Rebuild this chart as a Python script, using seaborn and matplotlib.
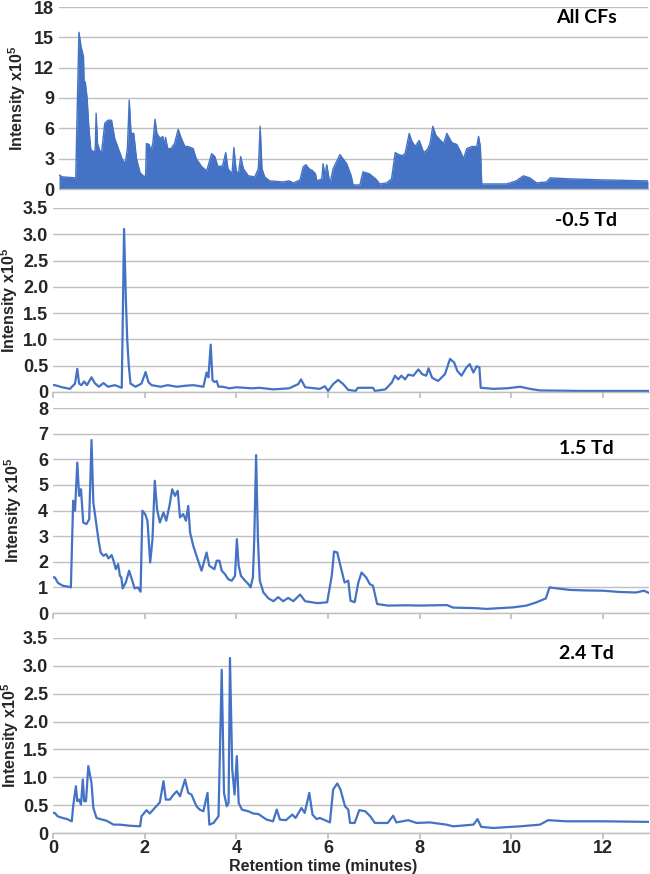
import matplotlib
matplotlib.use("Agg")
import matplotlib.pyplot as plt
import seaborn as sns
import pandas as pd

# ==========================================
# data (minutes, intensity x10^5)
# ==========================================
t_all = [0.0, 0.07, 0.37, 0.39, 0.44, 0.49, 0.54, 0.56, 0.58, 0.62, 0.66, 0.70, 0.74, 0.78,
         0.80, 0.82, 0.85, 0.90, 0.94, 1.01, 1.08, 1.16, 1.23, 1.31, 1.39, 1.46, 1.51, 1.55,
         1.59, 1.65, 1.71, 1.79, 1.86, 1.91, 1.93, 1.99, 2.03, 2.07, 2.12, 2.16, 2.23, 2.29,
         2.32, 2.35, 2.40, 2.47, 2.55, 2.63, 2.70, 2.78, 2.85, 2.96, 3.03, 3.15, 3.26, 3.37,
         3.44, 3.51, 3.61, 3.68, 3.73, 3.82, 3.86, 3.91, 3.96, 4.01, 4.07, 4.18, 4.32, 4.40,
         4.44, 4.48, 4.54, 4.65, 4.95, 5.08, 5.18, 5.32, 5.39, 5.45, 5.52, 5.60, 5.66, 5.69,
         5.80, 5.83, 5.87, 5.91, 5.98, 6.05, 6.20, 6.35, 6.45, 6.49, 6.64, 6.71, 6.85, 6.99,
         7.08, 7.23, 7.34, 7.42, 7.50, 7.57, 7.64, 7.73, 7.78, 7.86, 7.95, 8.05, 8.13, 8.19,
         8.25, 8.32, 8.42, 8.49, 8.56, 8.67, 8.78, 8.85, 8.93, 9.00, 9.11, 9.22, 9.26, 9.30,
         9.33, 9.58, 9.88, 10.09, 10.25, 10.39, 10.54, 10.76, 10.84, 11.30, 12.01, 13.0]
i_all = [1.4, 1.2, 1.1, 5.5, 15.5, 14.0, 13.1, 9.5, 10.6, 9.0, 6.0, 4.0, 3.7, 3.7,
         4.0, 7.5, 4.5, 3.8, 3.6, 6.5, 6.8, 6.8, 5.0, 4.0, 3.0, 2.5, 4.0, 8.8,
         5.5, 5.5, 3.0, 1.6, 1.3, 1.2, 4.5, 4.4, 3.8, 4.5, 6.9, 5.5, 5.0, 5.2,
         4.2, 5.1, 4.0, 4.0, 4.5, 5.9, 5.0, 4.2, 4.2, 4.0, 3.0, 2.2, 1.8, 3.5,
         3.2, 2.2, 2.3, 3.6, 2.0, 1.5, 4.1, 1.8, 1.5, 3.2, 2.0, 1.3, 1.2, 2.0,
         6.2, 2.0, 1.2, 0.8, 0.7, 0.8, 0.6, 0.9, 2.2, 2.4, 2.0, 1.8, 1.5, 0.8,
         1.0, 2.5, 1.3, 2.4, 0.5, 2.0, 3.4, 2.5, 1.3, 0.4, 0.4, 1.7, 1.5, 1.0,
         0.5, 0.6, 1.0, 3.6, 3.4, 3.3, 3.5, 5.5, 4.8, 4.2, 4.8, 3.6, 3.9, 4.5,
         6.2, 5.3, 4.8, 4.5, 5.5, 4.6, 4.4, 3.8, 3.0, 4.0, 4.2, 4.2, 5.2, 4.2,
         0.5, 0.5, 0.5, 0.8, 1.3, 1.1, 0.6, 0.7, 1.1, 1.0, 0.9, 0.8]

t_m05 = [0.0, 0.04, 0.20, 0.37, 0.48, 0.53, 0.57, 0.62, 0.68, 0.74, 0.84, 0.91, 1.00, 1.10,
         1.20, 1.35, 1.50, 1.55, 1.59, 1.62, 1.65, 1.69, 1.80, 1.93, 2.02, 2.08, 2.15, 2.35,
         2.50, 2.70, 2.90, 3.06, 3.28, 3.35, 3.39, 3.44, 3.48, 3.53, 3.57, 3.61, 3.70, 3.85,
         4.00, 4.35, 4.50, 4.80, 5.15, 5.35, 5.41, 5.50, 5.82, 5.93, 6.00, 6.11, 6.22, 6.33,
         6.44, 6.60, 6.65, 6.98, 7.02, 7.25, 7.39, 7.46, 7.53, 7.60, 7.68, 7.75, 7.86, 7.97,
         8.05, 8.14, 8.19, 8.27, 8.40, 8.55, 8.66, 8.75, 8.82, 8.91, 9.02, 9.09, 9.17, 9.24,
         9.30, 9.33, 9.60, 9.90, 10.19, 10.40, 10.62, 11.50, 12.98, 13.0]
i_m05 = [0.13, 0.13, 0.09, 0.06, 0.16, 0.44, 0.16, 0.13, 0.20, 0.13, 0.28, 0.17, 0.10, 0.17,
         0.10, 0.13, 0.08, 3.10, 1.74, 0.98, 0.54, 0.16, 0.10, 0.16, 0.38, 0.19, 0.13, 0.10,
         0.13, 0.10, 0.12, 0.13, 0.10, 0.37, 0.28, 0.90, 0.22, 0.19, 0.21, 0.10, 0.10, 0.07,
         0.09, 0.07, 0.08, 0.05, 0.07, 0.15, 0.24, 0.09, 0.06, 0.11, 0.02, 0.15, 0.23, 0.15,
         0.04, 0.02, 0.08, 0.08, 0.02, 0.05, 0.18, 0.31, 0.24, 0.31, 0.24, 0.33, 0.31, 0.43,
         0.34, 0.31, 0.45, 0.27, 0.21, 0.34, 0.63, 0.56, 0.40, 0.31, 0.47, 0.53, 0.37, 0.49,
         0.47, 0.08, 0.06, 0.07, 0.10, 0.06, 0.03, 0.02, 0.02, 0.02]

t_15 = [0.0, 0.04, 0.11, 0.22, 0.33, 0.39, 0.44, 0.48, 0.53, 0.57, 0.61, 0.66, 0.73, 0.79,
        0.84, 0.88, 0.93, 0.99, 1.04, 1.10, 1.16, 1.21, 1.28, 1.32, 1.37, 1.42, 1.46, 1.49,
        1.52, 1.59, 1.66, 1.73, 1.78, 1.85, 1.91, 1.95, 2.01, 2.06, 2.12, 2.17, 2.22, 2.27,
        2.33, 2.41, 2.47, 2.54, 2.60, 2.66, 2.72, 2.77, 2.84, 2.90, 2.95, 2.99, 3.06, 3.13,
        3.24, 3.29, 3.35, 3.41, 3.46, 3.52, 3.57, 3.63, 3.68, 3.75, 3.82, 3.90, 3.97, 4.01,
        4.05, 4.10, 4.19, 4.26, 4.31, 4.36, 4.39, 4.43, 4.47, 4.51, 4.59, 4.70, 4.81, 4.91,
        5.02, 5.13, 5.24, 5.39, 5.50, 5.75, 5.82, 5.98, 6.08, 6.13, 6.20, 6.27, 6.36, 6.44,
        6.49, 6.58, 6.66, 6.73, 6.83, 6.91, 6.98, 7.07,
        7.30, 7.70, 8.00, 8.30, 8.59, 8.73, 9.20, 9.46, 10.04, 10.33, 10.55, 10.75, 10.83,
        10.95, 11.28, 11.64, 12.00, 12.36, 12.72, 12.89, 13.0]
i_15 = [1.39, 1.39, 1.17, 1.06, 1.03, 1.00, 4.38, 3.99, 5.87, 4.57, 4.83, 3.53, 3.47, 3.66,
        6.75, 4.31, 3.66, 2.88, 2.36, 2.23, 2.30, 2.13, 2.26, 2.04, 1.71, 1.91, 1.45, 1.39,
        0.96, 1.20, 1.65, 1.26, 0.96, 1.00, 0.83, 3.99, 3.86, 3.60, 1.97, 2.88, 5.16, 4.05,
        3.53, 3.92, 3.60, 4.18, 4.83, 4.57, 4.77, 3.73, 3.86, 3.60, 4.18, 3.14, 2.62, 2.23,
        1.65, 1.97, 2.36, 1.84, 1.78, 1.71, 2.04, 2.04, 1.65, 1.52, 1.32, 1.26, 1.45, 2.88,
        1.84, 1.45, 1.26, 1.13, 1.00, 1.39, 2.88, 6.16, 2.88, 1.26, 0.80, 0.57, 0.46, 0.62,
        0.46, 0.59, 0.46, 0.72, 0.46, 0.39, 0.39, 0.42, 1.45, 2.40, 2.36, 1.84, 1.19, 1.26,
        0.48, 0.42, 1.19, 1.58, 1.39, 1.13, 1.06, 0.35,
        0.29, 0.30, 0.29, 0.30, 0.31, 0.21, 0.19, 0.16, 0.22, 0.29, 0.42, 0.57, 1.00,
        0.97, 0.90, 0.88, 0.87, 0.82, 0.80, 0.87, 0.78]

t_24 = [0.0, 0.04, 0.10, 0.21, 0.31, 0.41, 0.44, 0.50, 0.53, 0.57, 0.61, 0.65, 0.68, 0.72,
        0.77, 0.84, 0.88, 0.95, 1.03, 1.17, 1.32, 1.46, 1.68, 1.90, 1.93, 2.04, 2.11, 2.22,
        2.33, 2.41, 2.46, 2.55, 2.63, 2.70, 2.77, 2.88, 2.95, 3.02, 3.13, 3.20, 3.28, 3.37,
        3.41, 3.50, 3.61, 3.68, 3.73, 3.79, 3.83, 3.86, 3.91, 3.96, 4.01, 4.05, 4.12, 4.26,
        4.37, 4.48, 4.66, 4.80, 4.88, 4.95, 5.08, 5.22, 5.29, 5.42, 5.49, 5.59, 5.66, 5.75,
        5.82, 6.04, 6.11, 6.20, 6.27, 6.37, 6.44, 6.48, 6.58, 6.68, 6.81, 6.92, 7.02, 7.30,
        7.42, 7.49, 7.75, 7.93, 8.22, 8.58, 8.73, 9.17, 9.26, 9.34, 9.60, 10.19, 10.62, 10.80,
        11.20, 12.00, 12.98, 13.0]
i_24 = [0.36, 0.36, 0.30, 0.27, 0.25, 0.21, 0.48, 0.84, 0.57, 0.60, 0.51, 0.96, 0.57, 0.57,
        1.20, 0.90, 0.45, 0.27, 0.25, 0.22, 0.15, 0.15, 0.13, 0.12, 0.30, 0.41, 0.35, 0.45,
        0.55, 0.93, 0.60, 0.60, 0.69, 0.75, 0.66, 0.96, 0.72, 0.69, 0.48, 0.42, 0.39, 0.72,
        0.15, 0.18, 0.30, 2.93, 0.72, 0.48, 0.54, 3.14, 1.14, 0.69, 1.38, 0.54, 0.42, 0.39,
        0.35, 0.34, 0.24, 0.21, 0.42, 0.24, 0.23, 0.33, 0.27, 0.45, 0.36, 0.72, 0.33, 0.25,
        0.27, 0.19, 0.78, 0.89, 0.78, 0.48, 0.42, 0.18, 0.18, 0.41, 0.39, 0.30, 0.18, 0.18,
        0.31, 0.19, 0.23, 0.18, 0.19, 0.15, 0.12, 0.15, 0.25, 0.11, 0.09, 0.12, 0.15, 0.23,
        0.21, 0.21, 0.20, 0.20]

panel_names = ["All CFs", "-0.5 Td", "1.5 Td", "2.4 Td"]
y_maxes = [18, 3.5, 8, 3.5]
y_steps = [3, 0.5, 1, 0.5]
x_ticks = [0, 2, 4, 6, 8, 10, 12]

# ==========================================
# layout (pixel boxes from the reference)
# ==========================================
W, H = 650, 874
boxes = [(59, 648, 7, 189), (53, 649, 208, 392), (53, 649, 408, 613), (53, 649, 638, 833)]
ylab_x = [28, 20, 24, 21]   # right edge of the rotated y label, px
label_y = [0.94, 0.93, 0.80, 0.92]

BLUE = "#4472C4"
GRID = "#BFBFBF"

sns.set_theme(style="whitegrid")
plt.rcParams["font.family"] = ["Liberation Sans", "DejaVu Sans"]
plt.rcParams["mathtext.default"] = "regular"

fig = plt.figure(figsize=(W / 100, H / 100), dpi=100)
fig.patch.set_facecolor("white")

series = [(t_all, i_all), (t_m05, i_m05), (t_15, i_15), (t_24, i_24)]

for k, ((left, right, top, bot), (tt, ii)) in enumerate(zip(boxes, series)):
    ax = fig.add_axes([left / W, 1 - bot / H, (right - left) / W, (bot - top) / H])
    df = pd.DataFrame({"t": tt, "i": ii})
    sns.lineplot(data=df, x="t", y="i", ax=ax, color=BLUE,
                 linewidth=1.0 if k == 0 else 1.6, estimator=None, sort=False)
    if k == 0:
        ax.fill_between(df["t"], 0, df["i"], color=BLUE, linewidth=0)

    ax.set_xlim(0, 13)
    ax.set_ylim(0, y_maxes[k])
    n = int(round(y_maxes[k] / y_steps[k]))
    yt = [j * y_steps[k] for j in range(n + 1)]
    ax.set_yticks(yt)
    if y_steps[k] < 1:
        ax.set_yticklabels(["0"] + [f"{v:.1f}" for v in yt[1:]])
    else:
        ax.set_yticklabels([f"{v:g}" for v in yt])
    ax.set_xticks(x_ticks)

    ax.set_facecolor("white")
    ax.grid(axis="x", visible=False)
    ax.grid(axis="y", color=GRID, linewidth=1.0)
    for s in ["left", "right", "top"]:
        ax.spines[s].set_visible(False)
    ax.spines["bottom"].set_color(GRID)
    ax.spines["bottom"].set_linewidth(1.0)
    ax.tick_params(axis="y", length=0, pad=3.5, labelsize=13)
    ax.tick_params(axis="x", length=4 if k > 0 else 0, color=GRID, direction="out",
                   bottom=True, labelsize=13, pad=1)
    for lab in ax.get_yticklabels() + ax.get_xticklabels():
        lab.set_fontweight("bold")

    ax.set_ylabel("Intensity x10$^5$", fontsize=11.5, fontweight="bold")
    ax.yaxis.set_label_coords((ylab_x[k] - left) / (right - left), 0.5)
    if k < 3:
        ax.set_xticklabels([])
        ax.set_xlabel("")
    else:
        ax.set_xlabel("Retention time (minutes)", fontsize=11.5, fontweight="bold")
        ax.xaxis.set_label_coords((323 - left) / (right - left), -0.135)

    ax.text(0.895, label_y[k], panel_names[k], transform=ax.transAxes,
            ha="center", va="center", fontsize=14, fontweight="bold",
            family=["Lato", "DejaVu Sans"], color="black")

fig.savefig("out.png", dpi=100, facecolor="white")
